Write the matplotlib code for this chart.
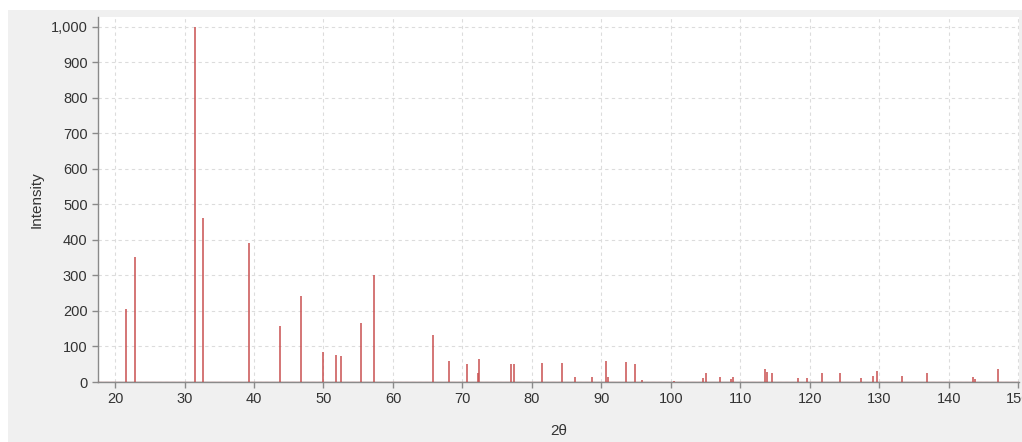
import matplotlib.pyplot as plt
from matplotlib.patches import Rectangle
from matplotlib.ticker import FuncFormatter

# Peak positions (2theta) and relative intensities
two_theta = [21.6, 22.9, 31.5, 32.6, 39.3, 43.7, 46.7, 49.9, 51.8, 52.5,
             55.4, 57.2, 65.7, 68.1, 70.6, 72.2, 72.4, 77.0, 77.4, 81.4,
             84.4, 86.2, 88.7, 90.6, 90.9, 93.5, 94.9, 95.9, 100.5, 104.6,
             105.1, 107.0, 108.6, 108.9, 113.5, 113.8, 114.6, 118.3, 119.6,
             121.8, 124.3, 127.3, 129.1, 129.6, 133.2, 136.8, 143.5, 143.8,
             147.1]
intensity = [206, 352, 1000, 462, 391, 159, 242, 84, 75, 73,
             165, 300, 132, 59, 51, 25, 65, 51, 51, 53,
             53, 13, 15, 60, 15, 55, 52, 5, 3, 10,
             24, 15, 8, 15, 36, 28, 26, 12, 12,
             24, 26, 12, 18, 32, 16, 24, 14, 8,
             36]

x_ticks = list(range(20, 151, 10))
y_ticks = list(range(0, 1001, 100))

plt.rcParams["font.family"] = ["Liberation Sans", "DejaVu Sans"]

fig = plt.figure(figsize=(10.22, 4.42), dpi=100, facecolor="white")
# grey panel behind the chart
fig.patches.append(Rectangle((8 / 1022, 0), 1, 1 - 10 / 442,
                             transform=fig.transFigure, facecolor="#f0f0f0",
                             edgecolor="none", zorder=-10))

ax = fig.add_axes([98 / 1022, 1 - 382 / 442, 921 / 1022, 365 / 442])
ax.set_facecolor("white")

ax.vlines(two_theta, 0, intensity, color="#c94f4f", linewidth=1.1, zorder=3)
ax.axhline(0, color="#9a5a5a", linewidth=1.0, zorder=3)

ax.set_xlim(17.55, 150.1)
ax.set_ylim(0, 1028)
ax.set_xticks(x_ticks)
ax.set_yticks(y_ticks)
ax.yaxis.set_major_formatter(FuncFormatter(lambda v, p: f"{int(v):,}"))

ax.grid(True, linestyle=(0, (3, 3)), color="#dcdcdc", linewidth=0.8, zorder=0)
ax.set_axisbelow(True)

for side in ["top", "right"]:
    ax.spines[side].set_visible(False)
for side in ["left", "bottom"]:
    ax.spines[side].set_color("#8a8a8a")
    ax.spines[side].set_linewidth(1.0)

ax.tick_params(axis="both", colors="#8a8a8a", labelcolor="#333333",
               labelsize=10.5, length=4, width=1.0, direction="out")

ax.set_xlabel("2θ", fontsize=11, color="#333333", labelpad=13)
ax.set_ylabel("Intensity", fontsize=11, color="#333333", labelpad=5)

fig.savefig("out.png", dpi=100, facecolor=fig.get_facecolor())
